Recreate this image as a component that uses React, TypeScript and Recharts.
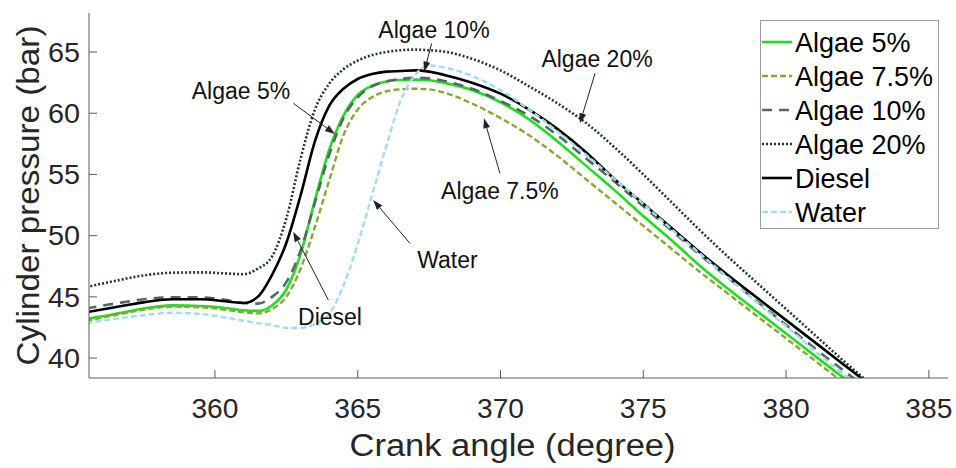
import React from 'react';
import { LineChart, Line, XAxis, YAxis, Legend, ReferenceLine, ReferenceDot } from 'recharts';

// ---------- data ----------
const crankAngle = [355.5, 356.5, 357.5, 358.5, 359.5, 360.5, 361, 361.5, 362, 362.5, 363, 363.5, 364, 364.5, 365, 365.5, 366, 366.5, 367, 367.5, 368, 369, 370, 371, 372, 373, 374, 375, 376, 377, 378, 379, 380, 381, 382, 383, 384];

const algae5 = [43.2, 43.6, 44.05, 44.3, 44.25, 44.05, 43.9, 43.85,
  44.3, 45.6, 48.5, 52.9, 57.0, 59.8, 61.5, 62.25, 62.6, 62.72, 62.75, 62.7, 62.5,
  61.9, 60.9, 59.5, 57.7, 55.7, 53.7, 51.6, 49.6, 47.5, 45.6, 43.8, 42.0, 40.2, 38.4, 36.6, 34.8];

const algae75 = [43.05, 43.5, 43.95, 44.2, 44.15, 43.9, 43.75, 43.65,
  44.0, 45.0, 47.3, 50.7, 54.5, 58.2, 60.3, 61.3, 61.8, 61.95, 62.0, 61.95, 61.7,
  60.8, 59.6, 58.2, 56.5, 54.6, 52.7, 50.8, 48.9, 47.0, 45.2, 43.4, 41.6, 39.8, 38.0, 36.2, 34.4];

const algae10 = [44.05, 44.45, 44.8, 44.97, 44.95, 44.7, 44.5, 44.45,
  45.0, 46.2, 48.8, 52.7, 56.6, 59.6, 61.3, 62.2, 62.6, 62.8, 62.9, 62.85, 62.65,
  62.0, 61.0, 59.8, 58.2, 56.3, 54.4, 52.4, 50.4, 48.4, 46.5, 44.6, 42.7, 40.8, 39.0, 37.2, 35.4];

const algae20 = [45.8, 46.3, 46.75, 46.97, 47.0, 46.9, 46.85, 47.3,
  48.3, 51.4, 56.3, 60.3, 62.4, 63.6, 64.3, 64.75, 65.0, 65.15, 65.2, 65.15, 65.05,
  64.45, 63.5, 62.2, 60.8, 59.2, 57.2, 55.0, 52.7, 50.4, 48.2, 46.1, 44.0, 41.9, 39.8, 37.8, 35.8];

const diesel = [43.75, 44.15, 44.55, 44.8, 44.8, 44.6, 44.5, 45.0,
  46.8, 49.4, 53.3, 57.7, 60.6, 62.0, 62.8, 63.2, 63.4, 63.45, 63.5, 63.4, 63.15,
  62.5, 61.6, 60.3, 58.7, 56.8, 54.6, 52.6, 50.6, 48.6, 46.7, 44.9, 43.1, 41.3, 39.5, 37.7, 35.9];

const water = [42.85, 43.2, 43.5, 43.7, 43.6, 43.25, 43.05, 42.85,
  42.7, 42.45, 42.45, 42.8, 43.6, 45.9, 49.3, 53.3, 57.3, 61.0, 63.1, 63.9, 63.75,
  63.05, 61.9, 60.3, 58.5, 56.6, 54.6, 52.6, 50.5, 48.5, 46.5, 44.5, 42.6, 40.6, 38.7, 36.8, 34.9];

const xTicks = [360, 365, 370, 375, 380, 385];
const yTicks = [40, 45, 50, 55, 60, 65];
const xDomain = [355.59, 385.67];
const yDomain = [38.37, 68.19];

const seriesNames = ['Algae 5%', 'Algae 7.5%', 'Algae 10%', 'Algae 20%', 'Diesel', 'Water'];
const seriesValues = [algae5, algae75, algae10, algae20, diesel, water];

// annotation text positions and arrows (data coordinates)
const annotationTexts = ['Algae 10%', 'Algae 5%', 'Diesel', 'Water', 'Algae 7.5%', 'Algae 20%'];
const annotationTextX = [367.67, 360.91, 364.03, 368.14, 369.98, 373.38];
const annotationTextY = [66.8, 61.82, 43.38, 48.01, 53.65, 64.43];
const arrowFromX = [367.59, 362.75, 363.97, 366.83, 369.98, 373.31];
const arrowFromY = [65.71, 60.81, 44.74, 49.37, 55.09, 63.26];
const arrowToX = [367.33, 364.2, 362.74, 365.54, 369.42, 372.78];
const arrowToY = [63.4, 58.3, 50.32, 52.91, 59.59, 59.18];

// ---------- styles ----------
const FONT = "'Liberation Sans', Arial, Helvetica, sans-serif";
const AXIS = '#5a5a5a';
const TXT = '#262626';
const styles = [
  { color: '#22dd22', dash: undefined, width: 2.6 },
  { color: '#8ba536', dash: '6 3', width: 2.4 },
  { color: '#4f6b60', dash: '10 7', width: 2.6 },
  { color: '#1e3a30', dash: '2 2', width: 2.6 },
  { color: '#000000', dash: undefined, width: 2.6 },
  { color: '#a4dcef', dash: '6 3', width: 2.4 },
];

const keys = ['s0', 's1', 's2', 's3', 's4', 's5'];
const data = crankAngle.map((x, i) => {
  const row: any = { x };
  seriesValues.forEach((vals, k) => { row[keys[k]] = vals[i]; });
  return row;
});

// ---------- custom ticks ----------
const BottomTick = (p: any) => (
  <g>
    <line x1={p.x} y1={p.y} x2={p.x} y2={p.y - 8} stroke={AXIS} strokeWidth={1} />
    <text x={p.x} y={p.y + 40} textAnchor="middle" fontSize={27} fill={TXT} fontFamily={FONT}
      textLength={47} lengthAdjust="spacingAndGlyphs">{p.payload.value}</text>
  </g>
);
const LeftTick = (p: any) => (
  <g>
    <line x1={p.x} y1={p.y} x2={p.x + 8} y2={p.y} stroke={AXIS} strokeWidth={1} />
    <text x={p.x - 9} y={p.y} dy="0.36em" textAnchor="end" fontSize={27} fill={TXT} fontFamily={FONT}
      textLength={32} lengthAdjust="spacingAndGlyphs">{p.payload.value}</text>
  </g>
);
const TopTick = (p: any) => (
  <line x1={p.x} y1={p.y} x2={p.x} y2={p.y + 8} stroke={AXIS} strokeWidth={1} />
);
const RightTick = (p: any) => (
  <line x1={p.x} y1={p.y} x2={p.x - 8} y2={p.y} stroke={AXIS} strokeWidth={1} />
);

const ArrowShape = (p: any) => {
  const { x1, y1, x2, y2 } = p;
  const ang = Math.atan2(y2 - y1, x2 - x1);
  const L = 10, W = 3.5;
  const bx = x2 - L * Math.cos(ang);
  const by = y2 - L * Math.sin(ang);
  const pts = `${x2},${y2} ${bx + W * Math.sin(ang)},${by - W * Math.cos(ang)} ${bx - W * Math.sin(ang)},${by + W * Math.cos(ang)}`;
  return (
    <g>
      <line x1={x1} y1={y1} x2={bx} y2={by} stroke="#222" strokeWidth={1} />
      <polygon points={pts} fill="#222" />
    </g>
  );
};

const makeTextShape = (label: string) => (p: any) => (
  <text x={p.cx} y={p.cy} dy="0.36em" textAnchor="middle" fontSize={23} fill="#111" fontFamily={FONT}>{label}</text>
);

const LegendBox = () => (
  <svg width={180} height={210} style={{ display: 'block' }}>
    <rect x={0.5} y={0.5} width={178} height={208} fill="#fff" stroke="#9a9a9a" strokeWidth={1} />
    {seriesNames.map((name, i) => {
      const cy = 22 + i * 34;
      return (
        <g key={name}>
          <line x1={2} y1={cy} x2={32} y2={cy} stroke={styles[i].color} strokeWidth={styles[i].width} strokeDasharray={styles[i].dash} />
          <text x={35} y={cy} dy="0.36em" fontSize={27} fill="#000" fontFamily={FONT}>{name}</text>
        </g>
      );
    })}
  </svg>
);

const YTitle = (p: any) => {
  const vb = p.viewBox || {};
  const cx = 27;
  const cy = (vb.y || 0) + (vb.height || 0) / 2;
  return (
    <text x={cx} y={cy} dy="0.36em" textAnchor="middle" fontSize={32} fill={TXT} fontFamily={FONT}
      textLength={340} lengthAdjust="spacingAndGlyphs" transform={`rotate(-90 ${cx} ${cy})`}>
      Cylinder pressure (bar)
    </text>
  );
};

const XTitle = (p: any) => {
  const vb = p.viewBox || {};
  const cx = (vb.x || 0) + (vb.width || 0) / 2 - 6;
  return (
    <text x={cx} y={456} textAnchor="middle" fontSize={31} fill={TXT} fontFamily={FONT}
      textLength={326} lengthAdjust="spacingAndGlyphs">Crank angle (degree)</text>
  );
};

export default function App() {
  return (
    <div style={{ position: 'absolute', left: 0, top: 0, width: 956, height: 468, background: '#fff' }}>
      <LineChart width={956} height={468} data={data} margin={{ top: 13, right: 8, left: 29, bottom: 40 }}>
        <XAxis xAxisId="b" dataKey="x" type="number" domain={xDomain} ticks={xTicks} allowDataOverflow
          orientation="bottom" height={50} tickSize={0} tickMargin={0} tickLine={false}
          axisLine={{ stroke: AXIS, strokeWidth: 1 }} tick={<BottomTick />} interval={0}
          label={<XTitle />} />
        <XAxis xAxisId="t" dataKey="x" type="number" domain={xDomain} ticks={xTicks} allowDataOverflow
          orientation="top" height={0} tickSize={0} tickMargin={0} tickLine={false}
          axisLine={{ stroke: AXIS, strokeWidth: 1 }} tick={<TopTick />} interval={0} />
        <YAxis yAxisId="l" type="number" domain={yDomain} ticks={yTicks} allowDataOverflow
          orientation="left" width={60} tickSize={0} tickMargin={0} tickLine={false}
          axisLine={{ stroke: AXIS, strokeWidth: 1 }} tick={<LeftTick />} interval={0}
          label={<YTitle />} />
        <YAxis yAxisId="r" type="number" domain={yDomain} ticks={yTicks} allowDataOverflow
          orientation="right" width={0} tickSize={0} tickMargin={0} tickLine={false}
          axisLine={{ stroke: AXIS, strokeWidth: 1 }} tick={<RightTick />} interval={0} />
        {seriesNames.map((name, i) => (
          <Line key={name} xAxisId="b" yAxisId="l" type="monotone" dataKey={keys[i]} name={name}
            stroke={styles[i].color} strokeWidth={styles[i].width} strokeDasharray={styles[i].dash}
            dot={false} activeDot={false} isAnimationActive={false} />
        ))}
        {annotationTexts.map((t, i) => (
          <ReferenceLine key={'a' + i} xAxisId="b" yAxisId="l" ifOverflow="visible"
            segment={[{ x: arrowFromX[i], y: arrowFromY[i] }, { x: arrowToX[i], y: arrowToY[i] }]}
            shape={ArrowShape} />
        ))}
        {annotationTexts.map((t, i) => (
          <ReferenceDot key={'t' + i} xAxisId="b" yAxisId="l" ifOverflow="visible"
            x={annotationTextX[i]} y={annotationTextY[i]} r={0} shape={makeTextShape(t)} />
        ))}
        <Legend layout="vertical" align="center" verticalAlign="middle"
          wrapperStyle={{ left: 760, top: 20, width: 180, height: 210 }}
          content={() => <LegendBox />} />
      </LineChart>
    </div>
  );
}
